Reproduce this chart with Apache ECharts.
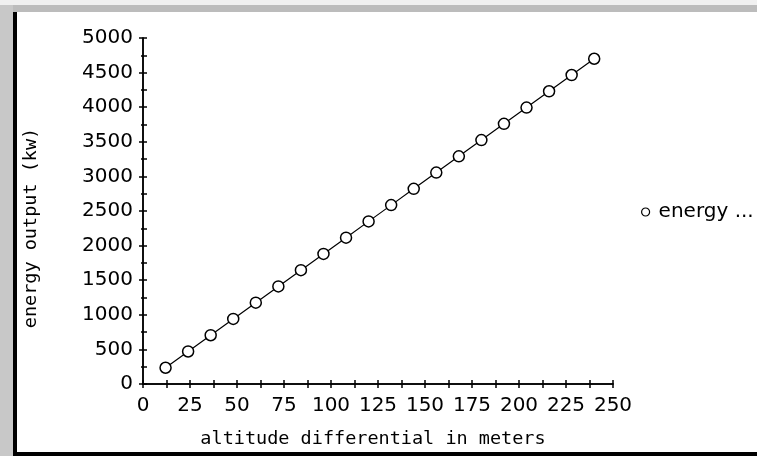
<!DOCTYPE html>
<html>
<head>
<meta charset="utf-8">
<script src="https://cdn.jsdelivr.net/npm/echarts@6/dist/echarts.min.js"></script>
<style>
html,body{margin:0;padding:0;background:#fff;}
#chart{width:757px;height:456px;}
</style>
</head>
<body>
<div id="chart"></div>
<script>
// Data
const altitude = [12, 24, 36, 48, 60, 72, 84, 96, 108, 120, 132, 144, 156, 168, 180, 192, 204, 216, 228, 240];
const energy = [235, 470, 705, 940, 1175, 1410, 1645, 1880, 2115, 2350, 2585, 2820, 3055, 3290, 3525, 3760, 3995, 4230, 4465, 4700];
const seriesName = 'energy ...';
const xTitle = 'altitude differential in meters';
const yTitle = 'energy output (kw)';

const points = altitude.map((x, i) => [x, energy[i]]);
const FONT = 'DejaVu Sans';
const TFONT = 'DejaVu Sans Mono';
const plain = v => String(v);

const chart = echarts.init(document.getElementById('chart'), null, {renderer: 'canvas'});
const axisLineStyle = {color: '#000', width: 1.5};
chart.setOption({
  animation: false,
  backgroundColor: '#fff',
  graphic: [
    {type: 'rect', shape: {x: 0, y: 0, width: 757, height: 5}, style: {fill: '#f0f0f0'}, silent: true},
    {type: 'rect', shape: {x: 5, y: 5, width: 752, height: 7}, style: {fill: '#bcbcbc'}, silent: true},
    {type: 'rect', shape: {x: 0, y: 5, width: 13, height: 451}, style: {fill: '#c8c8c8'}, silent: true},
    {type: 'rect', shape: {x: 13, y: 12, width: 4, height: 444}, style: {fill: '#000'}, silent: true},
    {type: 'rect', shape: {x: 13, y: 452, width: 744, height: 4}, style: {fill: '#000'}, silent: true}
  ],
  grid: {left: 143, top: 38, right: 144, bottom: 72, containLabel: false},
  legend: {
    data: [seriesName],
    left: 636, top: 197,
    orient: 'vertical',
    icon: 'circle',
    itemWidth: 8, itemHeight: 8, itemGap: 6,
    itemStyle: {color: '#fff', borderColor: '#000', borderWidth: 1.2},
    textStyle: {fontFamily: FONT, fontSize: 20, color: '#000', padding: [0, 0, 0, 4]}
  },
  xAxis: [
    {
      type: 'value', position: 'bottom', min: 0, max: 250, interval: 25,
      name: xTitle, nameLocation: 'middle', nameGap: 46,
      nameTextStyle: {fontFamily: TFONT, fontSize: 18.5, color: '#000', padding: [0, 10, 0, 0]},
      axisLine: {show: true, lineStyle: axisLineStyle},
      axisTick: {show: true, length: 4, lineStyle: {color: '#000', width: 1.5}},
      minorTick: {show: true, splitNumber: 2, length: 4, lineStyle: {color: '#000', width: 1.5}},
      axisLabel: {fontFamily: FONT, fontSize: 20, color: '#000', margin: 12, formatter: plain},
      splitLine: {show: false}
    },
    {
      type: 'value', position: 'top', min: 0, max: 250, interval: 25,
      axisLine: {show: true, lineStyle: axisLineStyle},
      axisTick: {show: true, length: 4, lineStyle: {color: '#000', width: 1.5}},
      minorTick: {show: true, splitNumber: 2, length: 4, lineStyle: {color: '#000', width: 1.5}},
      axisLabel: {show: false},
      splitLine: {show: false}
    }
  ],
  yAxis: [
    {
      type: 'value', position: 'left', min: 0, max: 5000, interval: 500,
      name: yTitle, nameLocation: 'middle', nameGap: 102, nameRotate: 90,
      nameTextStyle: {fontFamily: TFONT, fontSize: 18.5, color: '#000', padding: [0, 34, 0, 0]},
      axisLine: {show: true, lineStyle: axisLineStyle},
      axisTick: {show: true, length: 4, lineStyle: {color: '#000', width: 1.5}},
      minorTick: {show: true, splitNumber: 2, length: 2, lineStyle: {color: '#000', width: 1.5}},
      axisLabel: {fontFamily: FONT, fontSize: 20, color: '#000', margin: 10, formatter: plain},
      splitLine: {show: false}
    },
    {
      type: 'value', position: 'right', min: 0, max: 5000, interval: 500,
      axisLine: {show: true, lineStyle: axisLineStyle},
      axisTick: {show: true, length: 4, lineStyle: {color: '#000', width: 1.5}},
      minorTick: {show: true, splitNumber: 2, length: 4, lineStyle: {color: '#000', width: 1.5}},
      axisLabel: {show: false},
      splitLine: {show: false}
    }
  ],
  series: [{
    name: seriesName,
    type: 'line',
    data: points,
    symbol: 'circle',
    symbolSize: 11,
    showAllSymbol: true,
    lineStyle: {color: '#000', width: 1.2},
    itemStyle: {color: '#fff', borderColor: '#000', borderWidth: 1.5}
  }]
});
</script>
</body>
</html>
